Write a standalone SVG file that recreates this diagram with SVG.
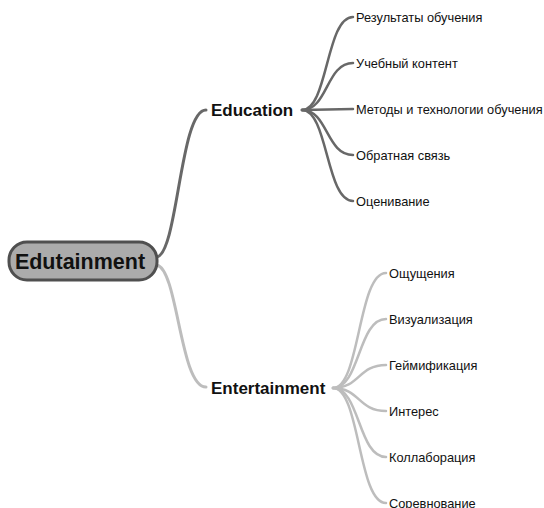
<svg xmlns="http://www.w3.org/2000/svg" width="544" height="508" viewBox="0 0 544 508">
<style>
.bg{fill:#ffffff}
.dark{fill:none;stroke:#686868;stroke-linecap:round}
.light{fill:none;stroke:#bdbdbd;stroke-linecap:round}
.leaf{font-family:"Liberation Sans",Arial,sans-serif;font-size:12.8px;fill:#111}
.main{font-family:"Liberation Sans",Arial,sans-serif;font-size:17px;font-weight:bold;fill:#111}
.root{font-family:"Liberation Sans",Arial,sans-serif;font-size:21.5px;font-weight:bold;fill:#111}
</style>
<rect class="bg" x="0" y="0" width="544" height="508"/>
<g id="connectors">
<path class="dark" stroke-width="3" d="M157,257 C178,252 180,110 206,110"/>
<path class="light" stroke-width="3" d="M157,265 C178,270 180,387 206,387"/>
<g stroke-width="2.5">
<path class="dark" d="M302,110 C328,110 326,17 353,17"/>
<path class="dark" d="M302,110 C328,110 326,63 353,63"/>
<path class="dark" d="M302,110 L353,109"/>
<path class="dark" d="M302,110 C328,110 326,155 353,155"/>
<path class="dark" d="M302,110 C328,110 326,201 353,201"/>
<path class="light" d="M333,388 C360,388 358,273 386,273"/>
<path class="light" d="M333,388 C360,388 358,319 386,319"/>
<path class="light" d="M333,388 C360,388 358,365 386,365"/>
<path class="light" d="M333,388 C360,388 358,411 386,411"/>
<path class="light" d="M333,388 C360,388 358,457 386,457"/>
<path class="light" d="M333,388 C360,388 358,503 386,503"/>
</g>
</g>
<g id="root">
<rect x="9" y="242" width="148" height="38" rx="18" fill="#ababab" stroke="#4f4f4f" stroke-width="3"/>
<text class="root" x="80" y="268.5" text-anchor="middle">Edutainment</text>
</g>
<g id="education"><text class="main" x="211" y="116">Education</text></g>
<g id="entertainment"><text class="main" x="211" y="394">Entertainment</text></g>
<g id="edu1"><text class="leaf" x="356" y="21.5">Результаты обучения</text></g>
<g id="edu2"><text class="leaf" x="356" y="67.5">Учебный контент</text></g>
<g id="edu3"><text class="leaf" x="356" y="113.5">Методы и технологии обучения</text></g>
<g id="edu4"><text class="leaf" x="356" y="159.5">Обратная связь</text></g>
<g id="edu5"><text class="leaf" x="356" y="205.5">Оценивание</text></g>
<g id="ent1"><text class="leaf" x="389" y="277.5">Ощущения</text></g>
<g id="ent2"><text class="leaf" x="389" y="323.5">Визуализация</text></g>
<g id="ent3"><text class="leaf" x="389" y="369.5">Геймификация</text></g>
<g id="ent4"><text class="leaf" x="389" y="415.5">Интерес</text></g>
<g id="ent5"><text class="leaf" x="389" y="461.5">Коллаборация</text></g>
<g id="ent6"><text class="leaf" x="389" y="507.5">Соревнование</text></g>
</svg>
